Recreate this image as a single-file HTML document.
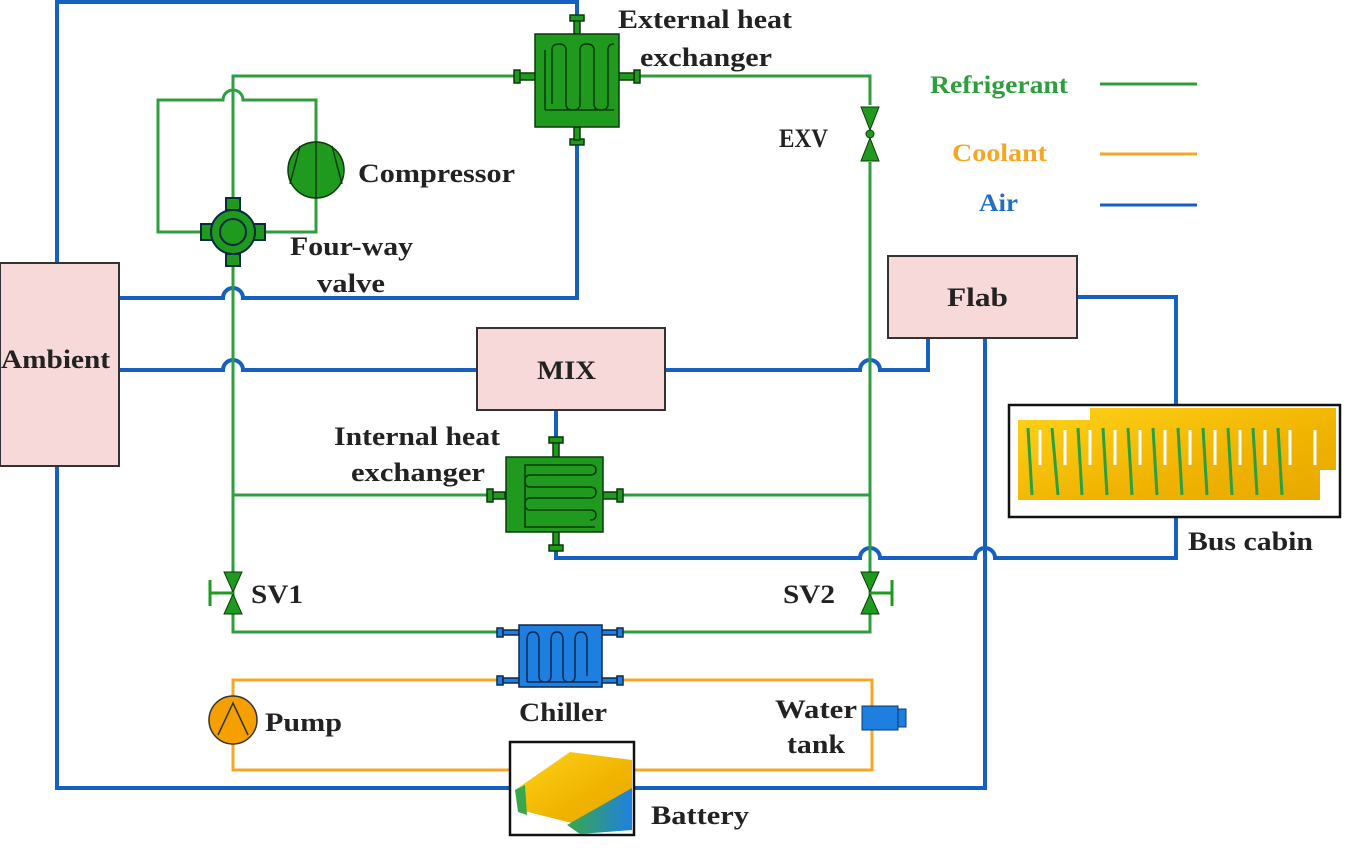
<!DOCTYPE html>
<html><head><meta charset="utf-8"><style>
body{margin:0;background:#fff}
svg text{font-family:"Liberation Serif",serif;font-weight:bold;font-size:26px;fill:#222}
</style></head><body>
<svg width="1348" height="850" viewBox="0 0 1348 850" xmlns="http://www.w3.org/2000/svg">
<defs>
<linearGradient id="g1" x1="0" y1="0" x2="1" y2="1"><stop offset="0" stop-color="#ffd21a"/><stop offset="0.6" stop-color="#f0b400"/><stop offset="1" stop-color="#e8a800"/></linearGradient>
<linearGradient id="g2" x1="0" y1="0" x2="1" y2="0"><stop offset="0" stop-color="#3aa84a"/><stop offset="1" stop-color="#1f80e0"/></linearGradient>
</defs>
<g fill="none" stroke="#1560c0" stroke-width="4">
<path d="M57 263 V2 H577 V20"/>
<path d="M577 140 V298 H243 a10 10 0 0 0 -20 0 H119"/>
<path d="M119 370 H223 a10 10 0 0 1 20 0 H477"/>
<path d="M665 370 H860 a10 10 0 0 1 20 0 H928 V338"/>
<path d="M1077 297 H1176 V405"/>
<path d="M556 410 V440"/>
<path d="M556 545 V558 H860 a10 10 0 0 1 20 0 H975 a10 10 0 0 1 20 0 H1176 V517"/>
<path d="M985 338 V788 H57 V466"/>
</g>
<g fill="none" stroke="#2e9e3e" stroke-width="3">
<path d="M233 212 V76 H520"/>
<path d="M635 76 H870 V105"/>
<path d="M870 162 V632 H620"/>
<path d="M500 632 H233 V248"/>
<path d="M223 232 H158 V100 H223 a10 10 0 0 1 20 0 H316 V142"/>
<path d="M316 198 V232 H250"/>
<path d="M233 495 H490"/>
<path d="M620 495 H870"/>
</g>
<g fill="none" stroke="#f5a623" stroke-width="3">
<path d="M500 680 H233 V770 H510"/>
<path d="M620 680 H872 V770 H634"/>
</g>
<g fill="#f8d9d9" stroke="#333" stroke-width="2">
<rect x="0" y="263" width="119" height="203"/>
<rect x="477" y="328" width="188" height="82"/>
<rect x="888" y="256" width="189" height="82"/>
</g>
<g fill="#1f9a1f" stroke="#0a3a0a" stroke-width="1.5">
<rect x="570" y="15" width="14" height="6"/><rect x="574" y="21" width="6" height="13"/>
<rect x="570" y="139" width="14" height="6"/><rect x="574" y="127" width="6" height="13"/>
<rect x="514" y="70" width="6" height="13"/><rect x="520" y="73" width="15" height="7"/>
<rect x="634" y="70" width="6" height="13"/><rect x="619" y="73" width="15" height="7"/>
<rect x="535" y="34" width="84" height="93"/>
<path d="M545 110 V50 M545 110 H614 M552 104 V50 q0 -6 7 -6 q7 0 7 6 V104 q0 6 7 6 q7 0 7 -6 V50 q0 -6 7 -6 q7 0 7 6 V104 q0 6 7 6 q7 0 7 -6 V50 q0 -6 6 -6" fill="none"/>
</g>
<g fill="#1f9a1f" stroke="#0a3a0a" stroke-width="1.5">
<rect x="549" y="437" width="14" height="6"/><rect x="553" y="443" width="6" height="14"/>
<rect x="549" y="545" width="14" height="6"/><rect x="553" y="532" width="6" height="13"/>
<rect x="487" y="489" width="6" height="13"/><rect x="493" y="492" width="12" height="7"/>
<rect x="617" y="489" width="6" height="13"/><rect x="603" y="492" width="14" height="7"/>
<rect x="506" y="457" width="97" height="75"/>
<path d="M595 527 H525 V465 H590 q6 0 6 5 q0 5 -6 5 H530 q-5 0 -5 6 q0 6 5 6 H590 q6 0 6 5 q0 6 -6 6 H530 q-5 0 -5 6 q0 6 5 6 H590 q6 0 6 5 q0 5 -6 5" fill="none"/>
</g>
<g fill="#1f7fe0" stroke="#0a2a50" stroke-width="1.5">
<rect x="497" y="628" width="6" height="9"/><rect x="503" y="630" width="16" height="5"/>
<rect x="497" y="676" width="6" height="9"/><rect x="503" y="678" width="16" height="5"/>
<rect x="617" y="628" width="6" height="9"/><rect x="601" y="630" width="16" height="5"/>
<rect x="617" y="676" width="6" height="9"/><rect x="601" y="678" width="16" height="5"/>
<rect x="519" y="625" width="83" height="62"/>
<path d="M527 682 V640 q0 -8 6 -8 q6 0 6 8 V676 q0 6 6 6 q6 0 6 -6 V640 q0 -8 6 -8 q6 0 6 8 V676 q0 6 6 6 q6 0 6 -6 V640 q0 -8 6 -8 q6 0 6 8 V676 M527 682 H598" fill="none"/>
</g>
<circle cx="316" cy="170" r="28" fill="#1f9a1f" stroke="#0a3a0a" stroke-width="1.5"/>
<path d="M316 142 V198 M300 146 L290 184 M332 146 L342 184" stroke="#0a3a0a" stroke-width="1.5" fill="none"/>
<g fill="#1f9a1f" stroke="#0a2a40" stroke-width="2">
<rect x="226" y="198" width="14" height="12"/><rect x="226" y="254" width="14" height="12"/>
<rect x="201" y="224" width="12" height="16"/><rect x="253" y="224" width="12" height="16"/>
<circle cx="233" cy="232" r="22"/><circle cx="233" cy="232" r="13"/>
</g>
<g fill="#1f9a1f" stroke="#0a3a0a" stroke-width="1">
<path d="M861 107 H879 L870 130 Z M861 161 H879 L870 138 Z"/><circle cx="870" cy="134" r="4"/>
</g>
<g fill="#1f9a1f" stroke="#0a3a0a" stroke-width="1">
<path d="M224 572 H242 L233 592 Z M224 614 H242 L233 594 Z"/>
<path d="M861 572 H879 L870 592 Z M861 614 H879 L870 594 Z"/>
</g>
<g stroke="#1f9a1f" stroke-width="3"><path d="M233 593 H210 M210 580 V606 M870 593 H892 M892 580 V606"/></g>
<circle cx="233" cy="720" r="24" fill="#f5a000" stroke="#333" stroke-width="1.5"/>
<path d="M218 735 L233 703 L248 735" fill="none" stroke="#333" stroke-width="1.5"/>
<rect x="862" y="706" width="36" height="24" fill="#1f7fe0" stroke="#0a3a70"/>
<rect x="898" y="709" width="8" height="18" fill="#1f7fe0" stroke="#0a3a70"/>
<rect x="1009" y="405" width="331" height="112" fill="#fff" stroke="#111" stroke-width="2.5"/>
<path d="M1018 420 H1090 V408 H1336 V470 H1320 V500 H1018 Z" fill="url(#g1)"/>
<g stroke="#fff" stroke-width="3">
<path d="M1040 430 V465 M1065 430 V465 M1090 430 V465 M1115 430 V465 M1140 430 V465 M1165 430 V465 M1190 430 V465 M1215 430 V465 M1240 430 V465 M1265 430 V465 M1290 430 V465 M1315 430 V465"/>
</g>
<g stroke="#2aa040" stroke-width="3">
<path d="M1028 428 L1032 495 M1052 428 L1058 495 M1078 428 L1082 495 M1103 428 L1107 495 M1128 428 L1132 495 M1153 428 L1157 495 M1178 428 L1182 495 M1203 428 L1207 495 M1228 428 L1232 495 M1253 428 L1257 495 M1278 428 L1282 495"/>
</g>
<rect x="510" y="742" width="124" height="93" fill="#fff" stroke="#111" stroke-width="2.5"/>
<path d="M515 790 L570 752 L632 760 L632 790 L580 825 L520 810 Z" fill="url(#g1)"/>
<path d="M567 825 L632 788 V830 L580 834 Z" fill="url(#g2)"/>
<path d="M515 790 L525 785 L527 815 L518 812 Z" fill="#3aa84a"/>
<path d="M1100 84 H1197" stroke="#2e9e3e" stroke-width="3"/>
<path d="M1100 154 H1197" stroke="#f5a623" stroke-width="3"/>
<path d="M1100 205 H1197" stroke="#1560c0" stroke-width="3"/>
<g lengthAdjust="spacingAndGlyphs">
<text x="930" y="93" textLength="138" lengthAdjust="spacingAndGlyphs" style="fill:#2e9e3e;font-size:25px">Refrigerant</text>
<text x="952" y="161" textLength="95" lengthAdjust="spacingAndGlyphs" style="fill:#f5a623;font-size:25px">Coolant</text>
<text x="979" y="211" textLength="39" lengthAdjust="spacingAndGlyphs" style="fill:#1f70c0;font-size:25px">Air</text>
<text x="618" y="28" textLength="174" lengthAdjust="spacingAndGlyphs">External heat</text>
<text x="640" y="66" textLength="132" lengthAdjust="spacingAndGlyphs">exchanger</text>
<text x="358" y="182" textLength="157" lengthAdjust="spacingAndGlyphs">Compressor</text>
<text x="290" y="255" textLength="123" lengthAdjust="spacingAndGlyphs">Four-way</text>
<text x="317" y="292" textLength="68" lengthAdjust="spacingAndGlyphs">valve</text>
<text x="779" y="147" textLength="49" lengthAdjust="spacingAndGlyphs">EXV</text>
<text x="947" y="306" textLength="61" lengthAdjust="spacingAndGlyphs">Flab</text>
<text x="1" y="368" textLength="109" lengthAdjust="spacingAndGlyphs">Ambient</text>
<text x="537" y="379" textLength="59" lengthAdjust="spacingAndGlyphs">MIX</text>
<text x="334" y="445" textLength="166" lengthAdjust="spacingAndGlyphs">Internal heat</text>
<text x="351" y="481" textLength="134" lengthAdjust="spacingAndGlyphs">exchanger</text>
<text x="1188" y="550" textLength="125" lengthAdjust="spacingAndGlyphs">Bus cabin</text>
<text x="251" y="603" textLength="52" lengthAdjust="spacingAndGlyphs">SV1</text>
<text x="783" y="603" textLength="52" lengthAdjust="spacingAndGlyphs">SV2</text>
<text x="519" y="721" textLength="88" lengthAdjust="spacingAndGlyphs">Chiller</text>
<text x="265" y="731" textLength="77" lengthAdjust="spacingAndGlyphs">Pump</text>
<text x="775" y="718" textLength="82" lengthAdjust="spacingAndGlyphs">Water</text>
<text x="787" y="753" textLength="58" lengthAdjust="spacingAndGlyphs">tank</text>
<text x="651" y="824" textLength="98" lengthAdjust="spacingAndGlyphs">Battery</text>
</g>
</svg>
</body></html>
